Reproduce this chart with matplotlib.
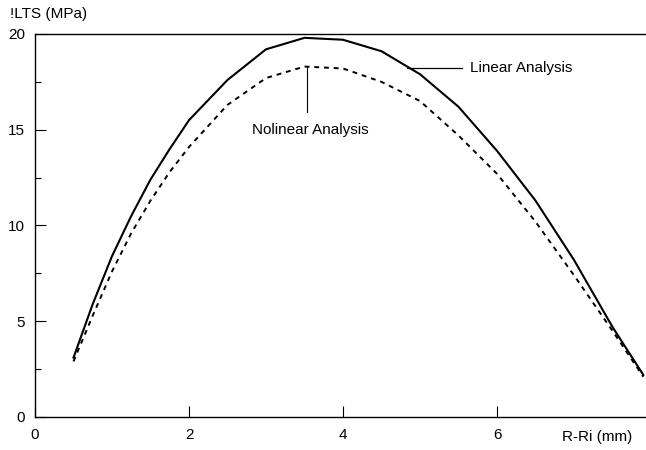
import matplotlib.pyplot as plt
from matplotlib.ticker import MultipleLocator

plt.rcParams['font.family'] = ['Liberation Sans', 'DejaVu Sans']

x = [0.5, 0.75, 1.0, 1.25, 1.5, 1.75, 2.0, 2.5, 3.0, 3.5, 4.0, 4.5, 5.0, 5.5, 6.0, 6.5, 7.0, 7.5, 7.9]
linear = [3.1, 5.9, 8.4, 10.5, 12.4, 14.0, 15.5, 17.6, 19.2, 19.8, 19.7, 19.1, 17.9, 16.2, 13.9, 11.3, 8.2, 4.7, 2.2]
nonlinear = [2.9, 5.3, 7.6, 9.6, 11.3, 12.8, 14.1, 16.3, 17.7, 18.3, 18.2, 17.5, 16.5, 14.7, 12.7, 10.2, 7.4, 4.5, 2.1]

fig = plt.figure(figsize=(6.46, 4.5), dpi=100)
ax = fig.add_axes([35/646, 33/450, 616/646, 383/450])

ax.plot(x, linear, color='k', lw=1.5)
ax.plot(x, nonlinear, color='k', lw=1.4, dashes=(2.5, 2.5))

# leaders and labels
ax.plot([4.83, 5.55], [18.25, 18.25], color='k', lw=0.9)
ax.text(5.65, 18.2, 'Linear Analysis', fontsize=11, va='center', ha='left')
ax.plot([3.53, 3.53], [18.3, 15.95], color='k', lw=0.8)
ax.text(3.58, 15.0, 'Nolinear Analysis', fontsize=11, va='center', ha='center')

ax.set_xlim(0, 8)
ax.set_ylim(0, 20)
ax.xaxis.set_major_locator(MultipleLocator(2))
ax.yaxis.set_major_locator(MultipleLocator(5))
ax.yaxis.set_minor_locator(MultipleLocator(2.5))
ax.tick_params(axis='both', which='both', direction='in', labelsize=11)
ax.tick_params(axis='both', which='major', length=8, width=0.8)
ax.tick_params(axis='y', which='minor', length=4, width=0.8)
ax.tick_params(axis='y', pad=7)
ax.tick_params(axis='x', pad=8)
for s in ax.spines.values():
    s.set_linewidth(1.0)

fig.text(10/646, 1 - 14/450, '!LTS (MPa)', fontsize=11, va='center', ha='left')
fig.text(562/646, 1 - 437/450, 'R-Ri (mm)', fontsize=11, va='center', ha='left')

fig.savefig('out.png', dpi=100)
